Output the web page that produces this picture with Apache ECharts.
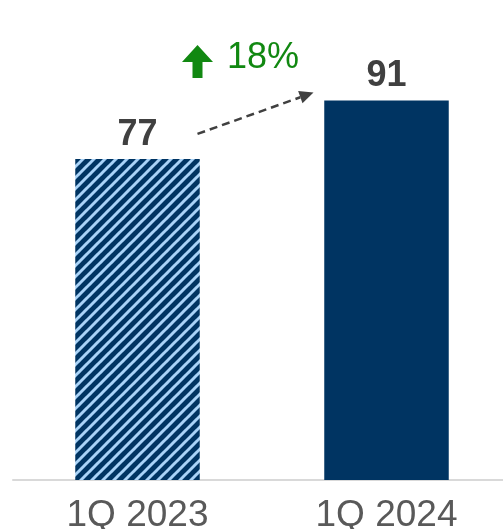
<!DOCTYPE html>
<html>
<head>
<meta charset="utf-8">
<script src="https://cdn.jsdelivr.net/npm/echarts@6/dist/echarts.min.js"></script>
<style>
  html, body { margin: 0; padding: 0; background: #ffffff; }
  #chart { width: 503px; height: 529px; }
</style>
</head>
<body>
<div id="chart"></div>
<script>
// Quarterly values shown as two bars
const categories = ['1Q 2023', '1Q 2024'];
const values = [77, 91];
const growthLabel = '18%';

const NAVY = '#003462';
const LIGHT = '#a9d3f8';

// Diagonal hatch tile for the earlier quarter
function hatchTile() {
  const n = 11;
  const c = document.createElement('canvas');
  c.width = n; c.height = n;
  const g = c.getContext('2d');
  g.fillStyle = NAVY;
  g.fillRect(0, 0, n, n);
  g.strokeStyle = LIGHT;
  g.lineWidth = 3;
  for (let k = -1; k <= 1; k++) {
    g.beginPath();
    g.moveTo(k * n - 1, n + 1);
    g.lineTo(k * n + n + 1, -1);
    g.stroke();
  }
  return c;
}

const chart = echarts.init(document.getElementById('chart'), null, { renderer: 'canvas' });

const barData = values.map((v, i) => ({
  value: v,
  itemStyle: { color: i === 0 ? { image: hatchTile(), repeat: 'repeat' } : NAVY }
}));

chart.setOption({
  animation: false,
  grid: { left: 13, width: 498, top: 63, bottom: 49, containLabel: false, outerBoundsMode: 'none' },
  xAxis: {
    type: 'category',
    data: categories,
    axisLine: { lineStyle: { color: '#d9d9d9', width: 2 } },
    axisTick: { show: false },
    axisLabel: {
      color: '#595959',
      fontFamily: 'Liberation Sans, Arial, sans-serif',
      fontSize: 37,
      margin: 17
    }
  },
  yAxis: { type: 'value', min: 0, max: 100, show: false, splitLine: { show: false } },
  series: [{
    type: 'bar',
    data: barData,
    barWidth: '50%',
    label: {
      show: true,
      position: 'top',
      distance: 6,
      color: '#404040',
      fontFamily: 'Liberation Sans, Arial, sans-serif',
      fontWeight: 'bold',
      fontSize: 36
    }
  }]
});

// Growth annotation: dashed arrow between the bar tops plus the green label
const p0 = chart.convertToPixel({ seriesIndex: 0 }, [0, values[0]]);
const p1 = chart.convertToPixel({ seriesIndex: 0 }, [1, values[1]]);
const x0 = p0[0] + 60, y0 = p0[1] - 25;
const x1 = p1[0] - 73, y1 = p1[1] - 8;
const ang = Math.atan2(y1 - y0, x1 - x0);
const head = 14, hw = 6.5;
const bx = x1 - head * Math.cos(ang), by = y1 - head * Math.sin(ang);
const nx = -Math.sin(ang), ny = Math.cos(ang);
const midX = (p0[0] + p1[0]) / 2;

chart.setOption({
  graphic: [
    {
      type: 'line',
      shape: { x1: x0, y1: y0, x2: bx, y2: by },
      style: { stroke: '#404040', lineWidth: 2.5, lineDash: [8, 5] }
    },
    {
      type: 'polygon',
      shape: { points: [[x1, y1], [bx + nx * hw, by + ny * hw], [bx - nx * hw, by - ny * hw]] },
      style: { fill: '#404040' }
    },
    {
      // upward arrow glyph
      type: 'polygon',
      shape: { points: [
        [midX - 80, 62], [midX - 64.5, 45], [midX - 49, 62],
        [midX - 59.5, 62], [midX - 59.5, 78], [midX - 69.5, 78], [midX - 69.5, 62]
      ] },
      style: { fill: '#118811' }
    },
    {
      type: 'text',
      x: midX - 35, y: 58,
      style: {
        text: growthLabel,
        fill: '#118811',
        font: '36px "Liberation Sans", Arial, sans-serif',
        textVerticalAlign: 'middle'
      }
    }
  ]
});
</script>
</body>
</html>
